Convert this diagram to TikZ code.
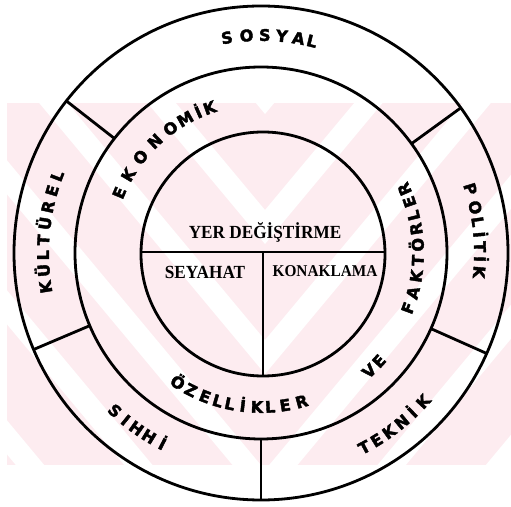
\documentclass[tikz,border=0pt]{standalone}
\usepackage{fontspec}
\setmainfont{Liberation Serif}
\newfontfamily\ringfont[FakeBold=2.5]{DejaVu Sans}
\newfontfamily\centerfont[FakeStretch=0.93]{Liberation Serif}
\usetikzlibrary{calc}
\definecolor{wmpink}{RGB}{253,236,240}
\tikzset{
  ring/.style={circle, draw=black, line width=2.8pt, inner sep=0pt, outer sep=0pt},
  divider/.style={draw=black, line width=2.8pt},
  inline/.style={draw=black, line width=2.4pt},
  ctext/.style={font=\centerfont\bfseries\fontsize{18.5}{19}\selectfont, inner sep=0pt},
  ringletter/.style={font=\ringfont\bfseries\fontsize{16}{17}\selectfont, inner sep=0pt,
    text height=11.7pt, text depth=0pt, anchor=center}
}
\newcommand\cwword[3]{%
  \foreach \ang/\ch [count=\i] in {#3} {%
    \node[ringletter, rotate=\ang-90] (#2-\i) at ($(C)+(\ang:#1)$) {\ch};}}
\newcommand\ccwword[3]{%
  \foreach \ang/\ch [count=\i] in {#3} {%
    \node[ringletter, rotate=\ang+90] (#2-\i) at ($(C)+(\ang:#1)$) {\ch};}}
\begin{document}
\begin{tikzpicture}[x=1pt,y=1pt]
\useasboundingbox (0,0) rectangle (511,506);
% faint watermark band
\fill[wmpink] (7,41) rectangle (511,403);
\begin{scope}
  \clip (7,41) rectangle (511,403);
  \foreach \b in {60,190,320,450,580,710} {
    \fill[white] (0,\b) -- (265,\b-318) -- (265,\b-318+34) -- (0,\b+34) -- cycle;
    \fill[white] (530,\b) -- (265,\b-318) -- (265,\b-318+34) -- (530,\b+34) -- cycle;
  }
\end{scope}
\coordinate (C) at (261,253);
\node[ring, minimum size=494pt] (outer) at (C) {};
\node[ring, minimum size=372pt] (mid) at (C) {};
\node[ring, minimum size=244pt] (inner) at (263,252) {};
\foreach \a in {142,203.5,36,336.2,270}
  \draw[divider] (mid.\a) -- (outer.\a);
\draw[inline] (inner.179) -- (inner.1);
\coordinate (vtop) at (inner.south |- inner.1);
\draw[inline] (vtop) -- (inner.south);
\node[ctext] (yer) at (265,274) {YER DEĞİŞTİRME};
\node[ctext] (sey) at (205,234) {SEYAHAT};
\node[ctext, font=\centerfont\bfseries\fontsize{16.5}{17}\selectfont] (kon) at (325,235) {KONAKLAMA};
% outer ring
\cwword{218}{sosyal}{99/S,93.8/O,89/S,84.5/Y,80.1/A,76.5/L}
\cwword{218}{kulturel}{189/K,184.6/Ü,180.6/L,176.6/T,172.2/Ü,167.8/R,163.4/E,159.3/L}
\cwword{219}{politik}{17/P,12/O,8.2/L,4.8/İ,1.6/T,-1.6/İ,-5/K}
\ccwword{220}{teknik}{-62/T,-58.3/E,-54.4/K,-50.2/N,-46.5/İ,-42.5/K}
\ccwword{215}{sihhi}{227.2/S,231/I,234.6/H,238.6/H,242.7/İ}
% middle ring
\cwword{154}{ekonomik}{157/E,149.5/K,141.5/O,133.5/N,126/O,119.5/M,114/İ,109.5/K}
\ccwword{157}{faktorler}{-20.5/F,-14.7/A,-8.5/K,-2.7/T,3/Ö,8.8/R,13.8/L,19/E,24/R}
\ccwword{160}{ve}{-47.5/V,-42.5/E}
\ccwword{154}{ozellikler}{237.3/Ö,242.9/Z,248.7/E,253.7/L,258.3/L,263.2/İ,268.5/K,273.4/L,279/E,285.3/R}
\end{tikzpicture}
\end{document}
